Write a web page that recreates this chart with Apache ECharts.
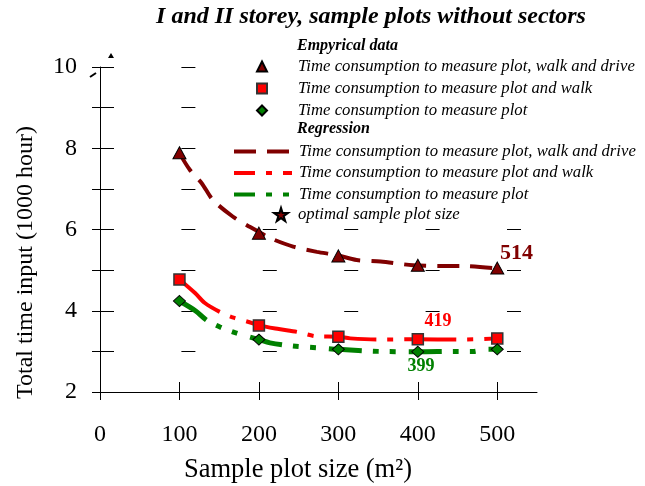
<!DOCTYPE html>
<html>
<head>
<meta charset="utf-8">
<script src="https://cdn.jsdelivr.net/npm/echarts@6/dist/echarts.min.js"></script>
<style>
html,body{margin:0;padding:0;background:#fff}
#chart{width:645px;height:486px}
</style>
</head>
<body>
<div id="chart"></div>
<script>
var chart = echarts.init(document.getElementById('chart'));

// empirical data (time in 1000 hour)
var plotSize = [100, 200, 300, 400, 500];
var driveTime = [7.89, 5.91, 5.35, 5.12, 5.05];
var walkTime = [4.77, 3.64, 3.36, 3.30, 3.32];
var plotTime = [4.24, 3.29, 3.05, 2.99, 3.05];

// regression curves
var driveFitX = [100, 113, 128, 142, 167, 189, 200, 214, 243, 273, 298, 323, 353, 394, 428, 457, 500];
var driveFitY = [7.88, 7.47, 7.14, 6.73, 6.32, 6.06, 5.94, 5.79, 5.58, 5.45, 5.37, 5.25, 5.21, 5.12, 5.10, 5.10, 5.04];
var walkFitX = [100, 120, 132, 151, 168, 186, 200, 225, 248, 273, 300, 315, 350, 400, 450, 500];
var walkFitY = [4.77, 4.43, 4.19, 3.97, 3.83, 3.73, 3.64, 3.55, 3.48, 3.37, 3.36, 3.32, 3.29, 3.30, 3.29, 3.32];
var plotFitX = [100, 120, 134, 151, 170, 200, 214, 243, 273, 300, 350, 400, 450, 470, 485, 500];
var plotFitY = [4.24, 4.00, 3.77, 3.60, 3.46, 3.29, 3.21, 3.13, 3.09, 3.05, 3.00, 2.99, 3.00, 3.00, 3.05, 3.05];

// optimal sample plot sizes
var optimalSize = [514, 419, 399];
var optimalTime = [5.06, 3.30, 2.99];

var xTicks = [0, 100, 200, 300, 400, 500];
var yTicks = [2, 4, 6, 8, 10];

var nmDrive = 'Time consumption to measure plot, walk and drive';
var nmWalk = 'Time consumption to measure plot and walk';
var nmPlot = 'Time consumption to measure plot';

var serif = 'Liberation Serif';
var starPath = 'path://M50,0 L61,35 L98,35 L68,57 L79,91 L50,70 L21,91 L32,57 L2,35 L39,35 Z';

function pairs(xs, ys) {
    return xs.map(function (x, i) { return [x, ys[i]]; });
}

var labelFix = [
    {offset: [8, -14], color: '#800000', fontSize: 22},
    {offset: [5, -18], color: '#ff0000', fontSize: 18},
    {offset: [4, 15], color: '#008000', fontSize: 18}
];

function legendText(padLeft) {
    return {fontFamily: serif, fontStyle: 'italic', fontSize: 16.7, color: '#000', lineHeight: 16, padding: [0, 0, 0, padLeft]};
}
var noDot = {opacity: 0};

var option = {
    backgroundColor: '#fff',
    animation: false,
    grid: {left: 100, right: 108, top: 67, bottom: 94, outerBoundsMode: 'none', containLabel: false},
    xAxis: [{
        type: 'value',
        min: 0, max: 550, interval: 100,
        name: 'Sample plot size (m²)',
        nameLocation: 'middle',
        nameGap: 65,
        nameTextStyle: {fontFamily: serif, fontSize: 26.5, color: '#000', padding: [0, 41, 0, 0]},
        axisLine: {show: true, lineStyle: {color: '#000', width: 1}},
        axisTick: {show: true, inside: true, length: 10, customValues: xTicks, lineStyle: {color: '#000'}},
        axisLabel: {customValues: xTicks, margin: 31, fontFamily: serif, fontSize: 24, color: '#000'},
        splitLine: {show: false}
    }, {
        type: 'value',
        position: 'bottom',
        min: 0, max: 550, interval: 100,
        axisLine: {show: false},
        axisTick: {show: true, length: 8, customValues: xTicks, lineStyle: {color: '#000'}},
        axisLabel: {show: false},
        splitLine: {show: false}
    }],
    yAxis: {
        type: 'value',
        min: 2, max: 10, interval: 1,
        name: 'Total time input (1000 hour)',
        nameLocation: 'middle',
        nameGap: 62,
        nameTextStyle: {fontFamily: serif, fontSize: 24, color: '#000', padding: [0, 66, 0, 0]},
        axisLine: {show: true, lineStyle: {color: '#000', width: 1}},
        axisTick: {show: true, length: 8, lineStyle: {color: '#000'}},
        axisLabel: {customValues: yTicks, margin: 23, fontFamily: serif, fontSize: 24, color: '#000'},
        splitLine: {show: true, lineStyle: {color: '#000', width: 1, type: [14, 67.4]}}
    },
    legend: [{
        orient: 'vertical', left: 251, top: 53,
        itemWidth: 10, itemHeight: 10, itemGap: 5,
        selectedMode: false,
        textStyle: legendText(26),
        data: [nmDrive, nmWalk, nmPlot]
    }, {
        orient: 'vertical', left: 227, top: 138,
        itemWidth: 60, itemHeight: 12, itemGap: 4.5,
        selectedMode: false,
        textStyle: legendText(0),
        data: [
            {name: nmDrive + ' ', itemStyle: noDot, lineStyle: {width: 4, type: [22, 11, 22, 100]}},
            {name: nmWalk + ' ', itemStyle: noDot, lineStyle: {width: 4, type: [21, 11, 6, 11, 9, 100]}},
            {name: nmPlot + ' ', itemStyle: noDot, lineStyle: {width: 4, type: [21, 11, 6, 11, 6, 100]}}
        ]
    }, {
        orient: 'vertical', left: 268, top: 201,
        itemWidth: 14, itemHeight: 14,
        selectedMode: false,
        textStyle: legendText(5),
        data: ['optimal sample plot size']
    }],
    graphic: [
        {type: 'rect', z: 3, silent: true, shape: {x: 228, y: 38, width: 414, height: 162}, style: {fill: '#fff'}},
        {type: 'text', z: 5, x: 371, y: 17, style: {text: 'I and II storey, sample plots without sectors', font: 'italic bold 24px "Liberation Serif"', fill: '#000', align: 'center', verticalAlign: 'middle'}},
        {type: 'text', z: 5, x: 297, y: 46, style: {text: 'Empyrical data', font: 'italic bold 16px "Liberation Serif"', fill: '#000', align: 'left', verticalAlign: 'middle'}},
        {type: 'text', z: 5, x: 297, y: 129, style: {text: 'Regression', font: 'italic bold 16px "Liberation Serif"', fill: '#000', align: 'left', verticalAlign: 'middle'}},
        {type: 'polygon', z: 5, shape: {points: [[111, 53], [114, 58], [108, 58]]}, style: {fill: '#000'}},
        {type: 'line', z: 5, shape: {x1: 90, y1: 77, x2: 96, y2: 73}, style: {stroke: '#000', lineWidth: 2}}
    ],
    series: [{
        name: nmDrive + ' ',
        type: 'line',
        data: pairs(driveFitX, driveFitY),
        symbol: 'none',
        smooth: 0.3,
        lineStyle: {color: '#800000', width: 4, type: [22, 11]},
        itemStyle: {color: '#800000'},
        z: 2
    }, {
        name: nmWalk + ' ',
        type: 'line',
        data: pairs(walkFitX, walkFitY),
        symbol: 'none',
        smooth: 0.3,
        lineStyle: {color: '#ff0000', width: 4, type: [52, 11, 6, 11]},
        itemStyle: {color: '#ff0000'},
        z: 2
    }, {
        name: nmPlot + ' ',
        type: 'line',
        data: pairs(plotFitX, plotFitY),
        symbol: 'none',
        smooth: 0.3,
        lineStyle: {color: '#008000', width: 5, type: [33, 11, 6, 11, 6, 13]},
        itemStyle: {color: '#008000'},
        z: 2
    }, {
        name: nmDrive,
        type: 'scatter',
        data: pairs(plotSize, driveTime),
        symbol: 'triangle',
        symbolSize: [13, 12],
        itemStyle: {color: '#800000', borderColor: '#000', borderWidth: 1, opacity: 1},
        z: 5
    }, {
        name: nmWalk,
        type: 'scatter',
        data: pairs(plotSize, walkTime),
        symbol: 'rect',
        symbolSize: 11,
        itemStyle: {color: '#ff0000', borderColor: '#333', borderWidth: 1.5, opacity: 1},
        z: 5
    }, {
        name: nmPlot,
        type: 'scatter',
        data: pairs(plotSize, plotTime),
        symbol: 'diamond',
        symbolSize: [12, 11],
        itemStyle: {color: '#008000', borderColor: '#000', borderWidth: 1, opacity: 1},
        z: 5
    }, {
        name: 'optimal sample plot size',
        type: 'scatter',
        symbol: starPath,
        symbolSize: 0,
        itemStyle: {color: '#800000', borderColor: '#000', borderWidth: 1, opacity: 1},
        data: optimalSize.map(function (s, i) {
            return {
                value: [s, optimalTime[i]],
                label: {
                    show: true,
                    position: 'inside',
                    offset: labelFix[i].offset,
                    formatter: String(s),
                    color: labelFix[i].color,
                    fontSize: labelFix[i].fontSize,
                    fontWeight: 'bold',
                    fontFamily: serif
                }
            };
        }),
        z: 6
    }]
};

chart.setOption(option);
</script>
</body>
</html>
